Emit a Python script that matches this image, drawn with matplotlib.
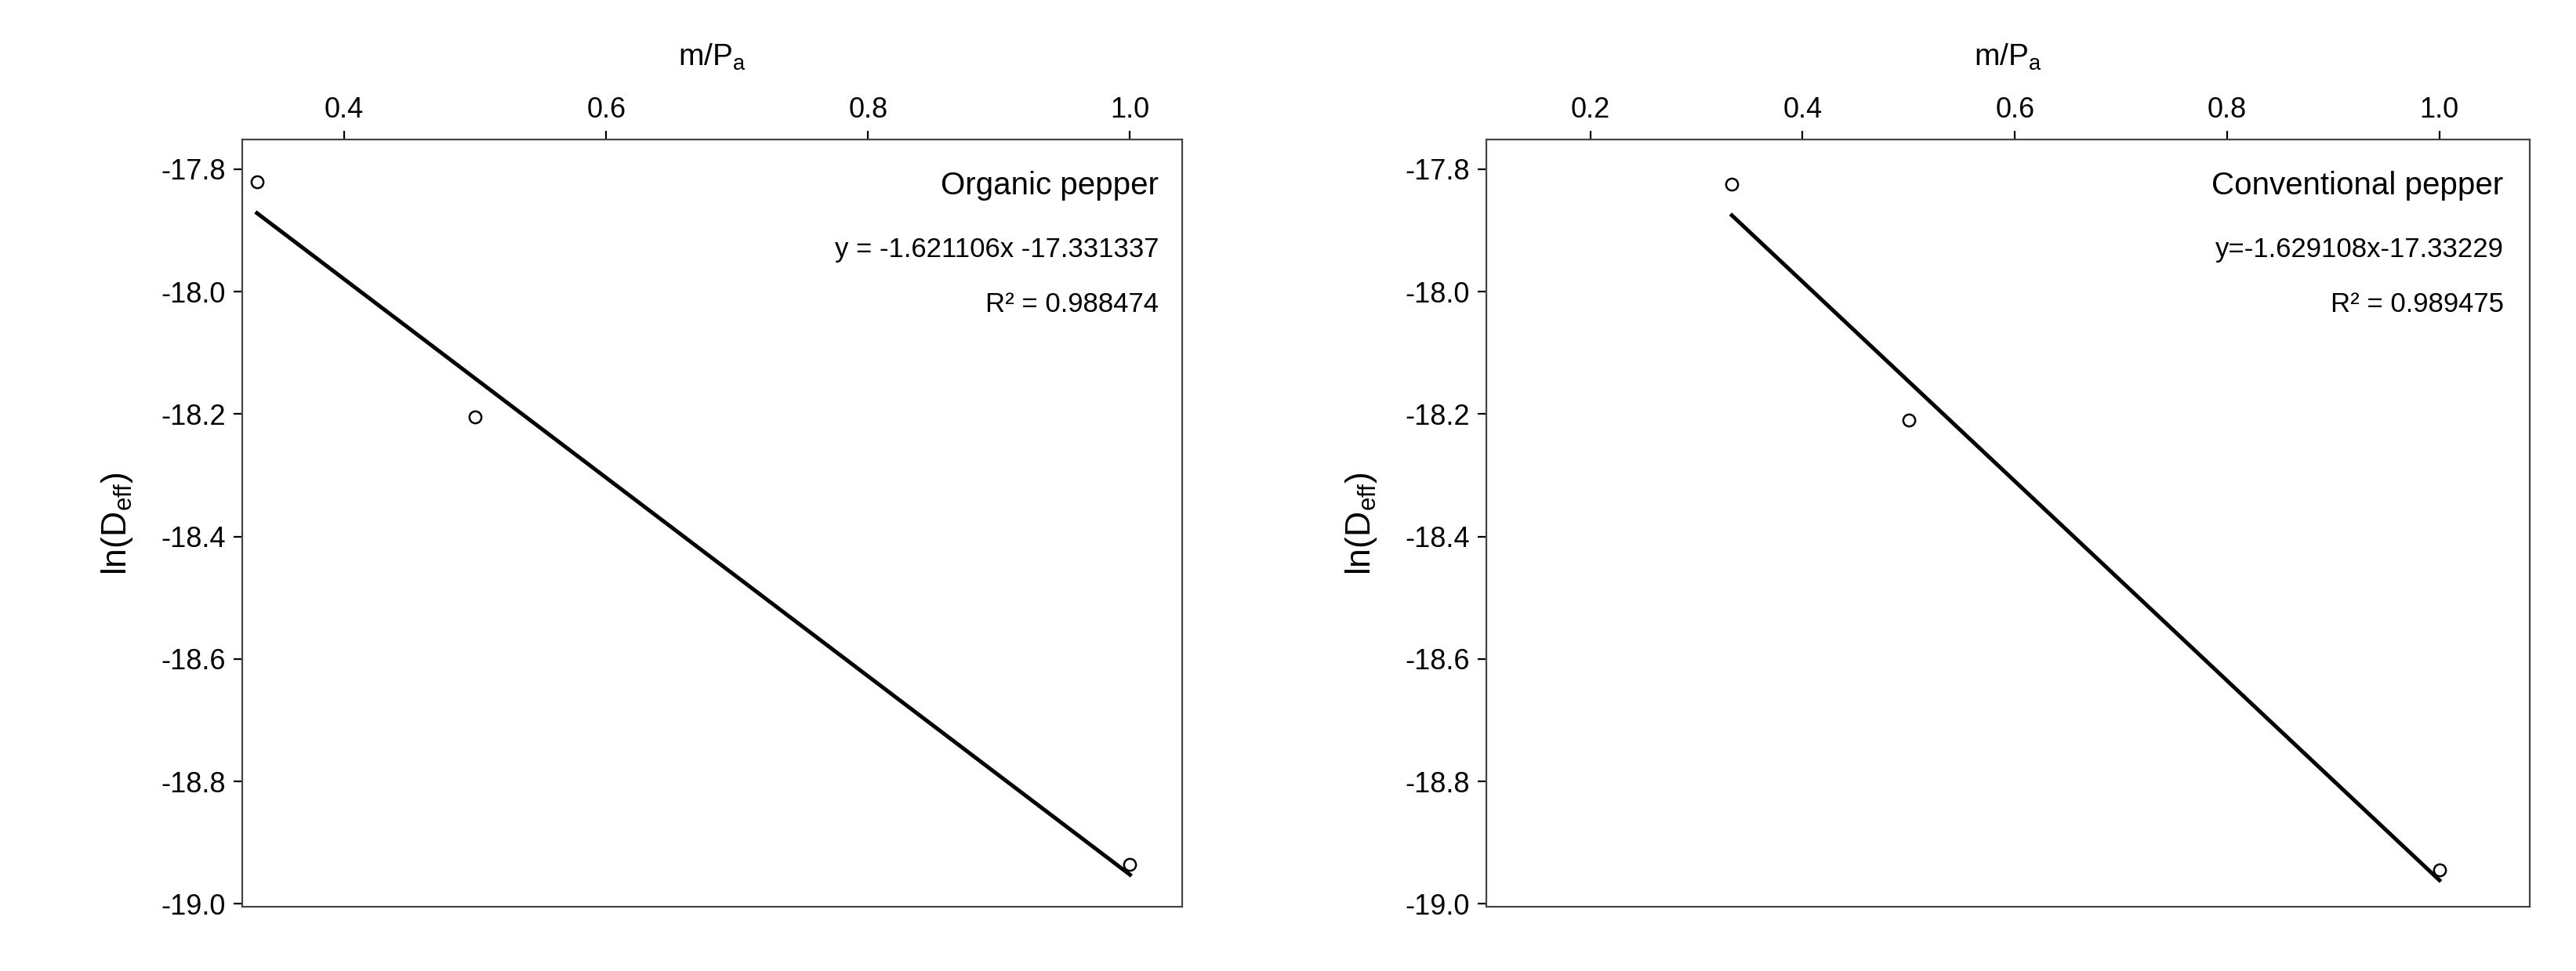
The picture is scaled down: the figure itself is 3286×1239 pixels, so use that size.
import matplotlib
matplotlib.use("Agg")
import matplotlib.pyplot as plt
import numpy as np

plt.rcParams["font.family"] = ["Liberation Sans", "DejaVu Sans"]

# ── Data ─────────────────────────────────────────────────────────────────────
x_points = [1 / 3, 0.5, 1.0]
organic_y = [-17.82, -18.205, -18.935]
conventional_y = [-17.825, -18.21, -18.945]

organic_fit = (-1.621106, -17.331337)
conventional_fit = (-1.629108, -17.33229)

organic_labels = ["Organic pepper", "y = -1.621106x -17.331337", "R² = 0.988474"]
conventional_labels = ["Conventional pepper", "y=-1.629108x-17.33229", "R² = 0.989475"]

y_ticks = [-17.8, -18.0, -18.2, -18.4, -18.6, -18.8, -19.0]
left_xticks = [0.4, 0.6, 0.8, 1.0]
right_xticks = [0.2, 0.4, 0.6, 0.8, 1.0]

# ── Figure ───────────────────────────────────────────────────────────────────
fig = plt.figure(figsize=(16.43, 6.195), dpi=200, facecolor="white")
ax1 = fig.add_axes([0.094, 0.066, 0.365, 0.790])
ax2 = fig.add_axes([0.577, 0.066, 0.405, 0.790])

panels = [
    (ax1, organic_y, organic_fit, organic_labels, left_xticks, (0.322, 1.04)),
    (ax2, conventional_y, conventional_fit, conventional_labels, right_xticks, (0.102, 1.085)),
]

for ax, ys, (slope, icpt), labels, xticks, xlim in panels:
    xf = np.array([x_points[0], x_points[-1]])
    ax.plot(xf, slope * xf + icpt, color="black", lw=1.8, zorder=2)
    ax.plot(x_points, ys, "o", mfc="white", mec="black", ms=5.5, mew=0.9, zorder=3)

    ax.set_xlim(*xlim)
    ax.set_ylim(-19.005, -17.752)
    ax.xaxis.tick_top()
    ax.xaxis.set_label_position("top")
    ax.set_xticks(xticks)
    ax.set_xticklabels([f"{t:.1f}" for t in xticks])
    ax.set_yticks(y_ticks)
    ax.set_yticklabels([f"{t:.1f}" for t in y_ticks])
    ax.tick_params(direction="out", labelsize=13, length=4, width=0.8)
    for sp in ax.spines.values():
        sp.set_linewidth(0.8)
        sp.set_color("#444444")

    ax.set_xlabel("m/P$_\\mathregular{a}$", fontsize=14, labelpad=14)
    ax.set_ylabel("ln(D$_\\mathregular{eff}$)", fontsize=16, labelpad=12)

    ax.text(0.975, 0.94, labels[0], transform=ax.transAxes,
            ha="right", va="center", fontsize=14.5)
    ax.text(0.975, 0.857, labels[1], transform=ax.transAxes,
            ha="right", va="center", fontsize=12.5)
    ax.text(0.975, 0.785, labels[2], transform=ax.transAxes,
            ha="right", va="center", fontsize=12.5)

fig.savefig("out.png", dpi=200, facecolor="white")
